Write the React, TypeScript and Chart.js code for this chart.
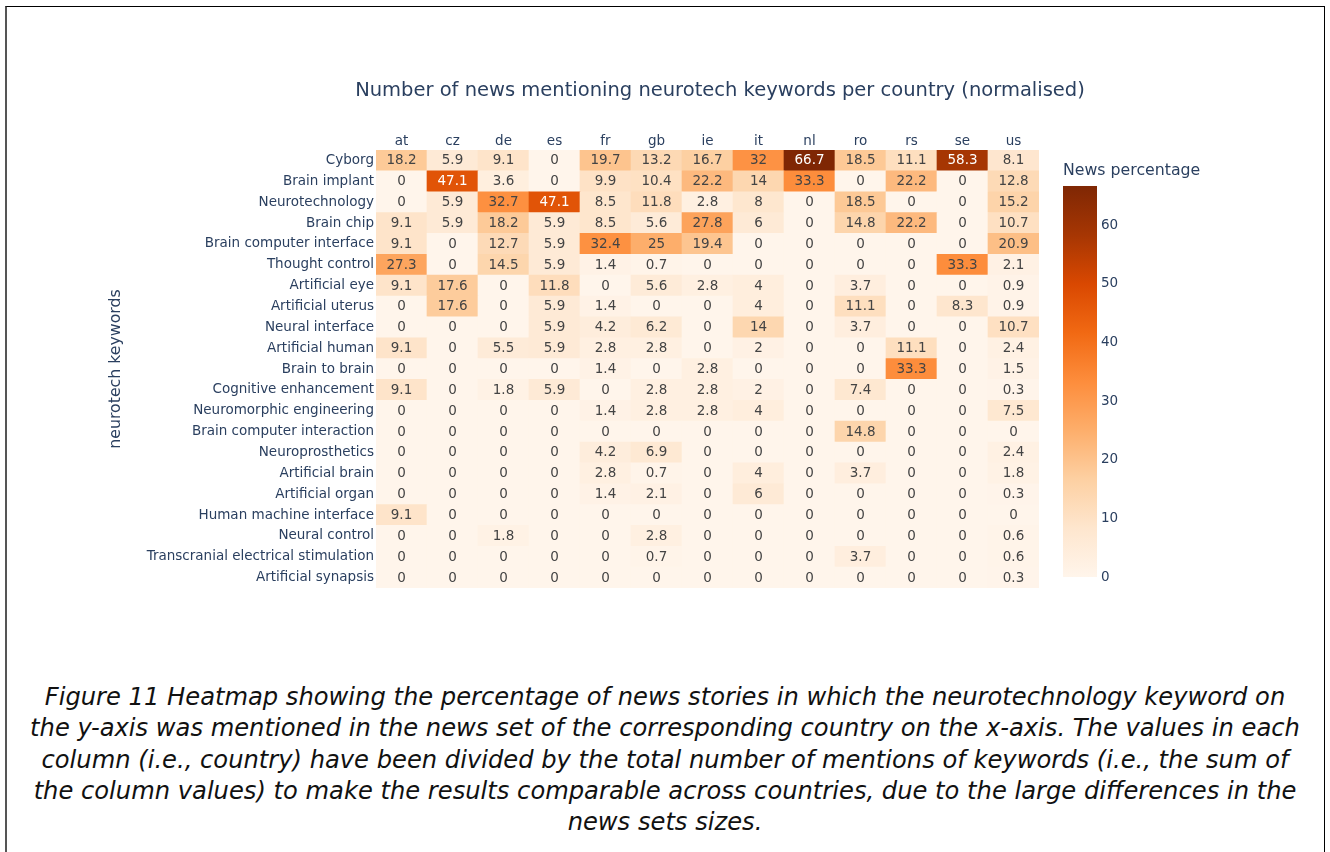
import React, { useEffect, useRef } from "react";
import { Chart, registerables } from "chart.js";

Chart.register(...registerables);

// ---------- data ----------
const countries = ["at", "cz", "de", "es", "fr", "gb", "ie", "it", "nl", "ro", "rs", "se", "us"];

const keywords = [
  "Cyborg",
  "Brain implant",
  "Neurotechnology",
  "Brain chip",
  "Brain computer interface",
  "Thought control",
  "Artificial eye",
  "Artificial uterus",
  "Neural interface",
  "Artificial human",
  "Brain to brain",
  "Cognitive enhancement",
  "Neuromorphic engineering",
  "Brain computer interaction",
  "Neuroprosthetics",
  "Artificial brain",
  "Artificial organ",
  "Human machine interface",
  "Neural control",
  "Transcranial electrical stimulation",
  "Artificial synapsis",
];

const cyborg = [18.2, 5.9, 9.1, 0, 19.7, 13.2, 16.7, 32, 66.7, 18.5, 11.1, 58.3, 8.1];
const brainImplant = [0, 47.1, 3.6, 0, 9.9, 10.4, 22.2, 14, 33.3, 0, 22.2, 0, 12.8];
const neurotechnology = [0, 5.9, 32.7, 47.1, 8.5, 11.8, 2.8, 8, 0, 18.5, 0, 0, 15.2];
const brainChip = [9.1, 5.9, 18.2, 5.9, 8.5, 5.6, 27.8, 6, 0, 14.8, 22.2, 0, 10.7];
const brainComputerInterface = [9.1, 0, 12.7, 5.9, 32.4, 25, 19.4, 0, 0, 0, 0, 0, 20.9];
const thoughtControl = [27.3, 0, 14.5, 5.9, 1.4, 0.7, 0, 0, 0, 0, 0, 33.3, 2.1];
const artificialEye = [9.1, 17.6, 0, 11.8, 0, 5.6, 2.8, 4, 0, 3.7, 0, 0, 0.9];
const artificialUterus = [0, 17.6, 0, 5.9, 1.4, 0, 0, 4, 0, 11.1, 0, 8.3, 0.9];
const neuralInterface = [0, 0, 0, 5.9, 4.2, 6.2, 0, 14, 0, 3.7, 0, 0, 10.7];
const artificialHuman = [9.1, 0, 5.5, 5.9, 2.8, 2.8, 0, 2, 0, 0, 11.1, 0, 2.4];
const brainToBrain = [0, 0, 0, 0, 1.4, 0, 2.8, 0, 0, 0, 33.3, 0, 1.5];
const cognitiveEnhancement = [9.1, 0, 1.8, 5.9, 0, 2.8, 2.8, 2, 0, 7.4, 0, 0, 0.3];
const neuromorphicEngineering = [0, 0, 0, 0, 1.4, 2.8, 2.8, 4, 0, 0, 0, 0, 7.5];
const brainComputerInteraction = [0, 0, 0, 0, 0, 0, 0, 0, 0, 14.8, 0, 0, 0];
const neuroprosthetics = [0, 0, 0, 0, 4.2, 6.9, 0, 0, 0, 0, 0, 0, 2.4];
const artificialBrain = [0, 0, 0, 0, 2.8, 0.7, 0, 4, 0, 3.7, 0, 0, 1.8];
const artificialOrgan = [0, 0, 0, 0, 1.4, 2.1, 0, 6, 0, 0, 0, 0, 0.3];
const humanMachineInterface = [9.1, 0, 0, 0, 0, 0, 0, 0, 0, 0, 0, 0, 0];
const neuralControl = [0, 0, 1.8, 0, 0, 2.8, 0, 0, 0, 0, 0, 0, 0.6];
const transcranialStimulation = [0, 0, 0, 0, 0, 0.7, 0, 0, 0, 3.7, 0, 0, 0.6];
const artificialSynapsis = [0, 0, 0, 0, 0, 0, 0, 0, 0, 0, 0, 0, 0.3];

const rows = [
  cyborg,
  brainImplant,
  neurotechnology,
  brainChip,
  brainComputerInterface,
  thoughtControl,
  artificialEye,
  artificialUterus,
  neuralInterface,
  artificialHuman,
  brainToBrain,
  cognitiveEnhancement,
  neuromorphicEngineering,
  brainComputerInteraction,
  neuroprosthetics,
  artificialBrain,
  artificialOrgan,
  humanMachineInterface,
  neuralControl,
  transcranialStimulation,
  artificialSynapsis,
];

const colorbarTicks = [0, 10, 20, 30, 40, 50, 60];

const titleText = "Number of news mentioning neurotech keywords per country (normalised)";
const yTitleText = "neurotech keywords";
const colorbarTitle = "News percentage";

const captionLines = [
  "Figure 11 Heatmap showing the percentage of news stories in which the neurotechnology keyword on",
  "the y-axis was mentioned in the news set of the corresponding country on the x-axis. The values in each",
  "column (i.e., country) have been divided by the total number of mentions of keywords (i.e., the sum of",
  "the column values) to make the results comparable across countries, due to the large differences in the",
  "news sets sizes.",
];

// ---------- styling helpers ----------
const FONT = "'DejaVu Sans', Verdana, sans-serif";
const TEXT = "#2a3f5f";
const zMax = Math.max(...rows.flat());

const oranges = [
  [255, 245, 235],
  [254, 230, 206],
  [253, 208, 162],
  [253, 174, 107],
  [253, 141, 60],
  [241, 105, 19],
  [217, 72, 1],
  [166, 54, 3],
  [127, 39, 4],
];

function colorFor(v: number): string {
  const t = Math.min(1, Math.max(0, v / zMax)) * (oranges.length - 1);
  const i = Math.min(oranges.length - 2, Math.floor(t));
  const f = t - i;
  const a = oranges[i];
  const b = oranges[i + 1];
  const c = a.map((x, k) => Math.round(x + (b[k] - x) * f));
  return `rgb(${c[0]},${c[1]},${c[2]})`;
}

const cellLabelPlugin = {
  id: "cellLabels",
  afterDatasetsDraw(chart: any) {
    const ctx = chart.ctx;
    ctx.save();
    ctx.font = `13.5px ${FONT}`;
    ctx.textAlign = "center";
    ctx.textBaseline = "middle";
    chart.data.datasets.forEach((ds: any, di: number) => {
      const meta = chart.getDatasetMeta(di);
      meta.data.forEach((el: any, ci: number) => {
        const v = ds.values[ci];
        ctx.fillStyle = v > 40 ? "#ffffff" : "#444444";
        ctx.fillText(String(v), el.x, (el.y + el.base) / 2 + 0.5);
      });
    });
    ctx.restore();
  },
};

const colorbarPlugin = {
  id: "colorbar",
  afterDraw(chart: any) {
    const s = chart.scales.cb;
    const ctx = chart.ctx;
    const x0 = s.left + 24;
    const w = 34;
    const yTop = s.getPixelForValue(zMax);
    const yBot = s.getPixelForValue(0);
    const g = ctx.createLinearGradient(0, yBot, 0, yTop);
    oranges.forEach((c, i) => g.addColorStop(i / (oranges.length - 1), `rgb(${c[0]},${c[1]},${c[2]})`));
    ctx.save();
    ctx.fillStyle = g;
    ctx.fillRect(x0, yTop, w, yBot - yTop);
    ctx.fillStyle = TEXT;
    ctx.font = `15.75px ${FONT}`;
    ctx.textAlign = "left";
    ctx.textBaseline = "middle";
    ctx.fillText(colorbarTitle, x0, 171);
    ctx.restore();
  },
};

const noPad = (s: any) => {
  s.paddingTop = 0;
  s.paddingBottom = 0;
};

export default function App() {
  const ref = useRef<HTMLCanvasElement | null>(null);

  useEffect(() => {
    if (!ref.current) return;
    // datasets: bottom row first so the first keyword ends on top
    const datasets = rows
      .map((vals, k) => ({
        label: keywords[k],
        values: vals,
        data: countries.map(() => 1),
        backgroundColor: vals.map(colorFor),
        borderWidth: 0,
        barPercentage: 1,
        categoryPercentage: 1,
        xAxisID: "x",
        yAxisID: "y",
      }))
      .reverse();

    const chart = new Chart(ref.current, {
      type: "bar",
      data: { labels: countries, datasets },
      options: {
        responsive: false,
        animation: false,
        devicePixelRatio: 1,
        events: [],
        layout: { padding: { left: 102, right: -8, top: 0, bottom: 22 } },
        font: { family: FONT },
        plugins: {
          legend: { display: false },
          tooltip: { enabled: false },
          title: {
            display: true,
            text: titleText,
            color: TEXT,
            font: { family: FONT, size: 19.5, weight: "normal" },
            padding: { top: 79, bottom: 27.6 },
          },
        },
        scales: {
          x: {
            type: "category",
            position: "top",
            stacked: true,
            offset: true,
            grid: { display: false, drawTicks: false },
            border: { display: false },
            ticks: { padding: 0, color: TEXT, font: { family: FONT, size: 13.5 } },
            afterFit: (s: any) => {
              s.height = 20;
            },
          },
          y: {
            type: "linear",
            display: false,
            stacked: true,
            min: 0,
            max: keywords.length,
          },
          yk: {
            type: "category",
            position: "left",
            labels: keywords,
            offset: true,
            grid: { display: false, drawTicks: false },
            border: { display: false },
            ticks: {
              padding: 2,
              autoSkip: false,
              color: TEXT,
              font: { family: FONT, size: 13.5 },
            },
            title: {
              display: true,
              text: yTitleText,
              color: TEXT,
              font: { family: FONT, size: 15.75 },
            },
            afterFit: (s: any) => {
              s.width = 274;
              noPad(s);
            },
          },
          cb: {
            type: "linear",
            position: "right",
            min: -1.876,
            max: 72.84,
            grid: { display: false, drawTicks: false },
            border: { display: false },
            afterBuildTicks: (s: any) => {
              s.ticks = colorbarTicks.map((v) => ({ value: v }));
            },
            ticks: {
              padding: 62,
              autoSkip: false,
              color: TEXT,
              font: { family: FONT, size: 13.5 },
            },
            afterFit: (s: any) => {
              s.width = 299;
              noPad(s);
            },
          },
        },
      } as any,
      plugins: [cellLabelPlugin, colorbarPlugin],
    });
    return () => chart.destroy();
  }, []);

  return (
    <div
      style={{
        position: "fixed",
        left: 0,
        top: 0,
        width: 1330,
        height: 852,
        overflow: "hidden",
        background: "#ffffff",
      }}
    >
      <div
        style={{
          position: "absolute",
          left: 5,
          top: 6,
          width: 1320,
          height: 900,
          boxSizing: "border-box",
          borderTop: "1px solid #000",
          borderLeft: "2px solid #555",
          borderRight: "1px solid #000",
        }}
      />
      <canvas
        ref={ref}
        width={1330}
        height={610}
        style={{ position: "absolute", left: 0, top: 0, width: 1330, height: 610 }}
      />
      <div
        style={{
          position: "absolute",
          left: 0,
          top: 682,
          width: 1330,
          textAlign: "center",
          fontFamily: "'DejaVu Sans', sans-serif",
          fontStyle: "italic",
          fontSize: 24.2,
          lineHeight: "31.3px",
          color: "#111",
          whiteSpace: "nowrap",
        }}
      >
        {captionLines.map((l, i) => (
          <div key={i}>{l}</div>
        ))}
      </div>
    </div>
  );
}
